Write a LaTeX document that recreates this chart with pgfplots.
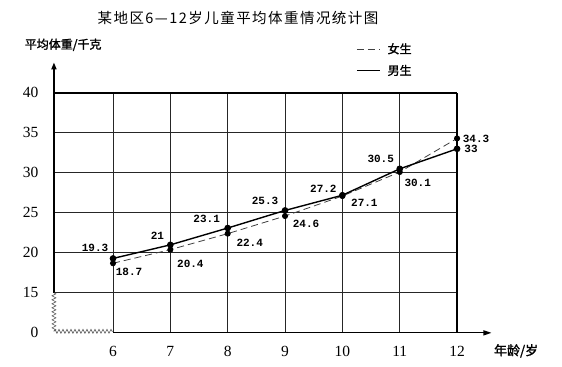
\documentclass[border=0pt]{standalone}
\usepackage{fontspec}
\setmainfont{Liberation Serif}
\newfontfamily\cjk{Noto Sans CJK SC}
\newfontfamily\cjkt[LetterSpace=10]{Noto Sans CJK SC}
\newfontfamily\cjkb[FakeBold=1.5]{Noto Sans CJK SC}
\newfontfamily\mono{Liberation Mono}
\usepackage{pgfplots}
\usepackage{pgfplotstable}
\pgfplotsset{compat=1.18}
\usetikzlibrary{decorations.pathmorphing,arrows.meta}

% x: age, y: weight (kg), lab: label, dx/dy: label offset (pt)
\pgfplotstableread{
x  y    lab   dx   dy
6  18.7 18.7  16   -9
7  20.4 20.4  20   -14
8  22.4 22.4  22   -9
9  24.6 24.6  21   -8
10 27.1 27.1  22   -7
11 30.1 30.1  18   -11
12 34.3 34.3  19   0
}\girls
\pgfplotstableread{
x  y    lab   dx   dy
6  19.3 19.3  -18  11
7  21   21    -13  9
8  23.1 23.1  -21  9
9  25.3 25.3  -20  10
10 27.2 27.2  -19  6
11 30.5 30.5  -19  10
12 33   33    14   0
}\boys

\pgfplotsset{
  lbl/.style={
    nodes near coords,
    point meta=explicit symbolic,
    visualization depends on={\thisrow{dx} \as \labdx},
    visualization depends on={\thisrow{dy} \as \labdy},
    every node near coord/.style={anchor=center, xshift=\labdx, yshift=\labdy,
       font=\mono\bfseries\fontsize{11}{12}\selectfont, text=black, inner sep=0pt},
  }
}

\begin{document}
\begin{tikzpicture}
\begin{axis}[
  x=57.33pt, y=8pt,
  xmin=4.97, xmax=12, ymin=10, ymax=40,
  axis line style={draw=none},
  tick style={draw=none},
  xtick={6,7,8,9,10,11,12},
  ytick={10,15,20,25,30,35,40},
  yticklabels={0,15,20,25,30,35,40},
  clip=false,
  /pgf/number format/assume math mode=true,
  ticklabel style={font=\fontsize{15.5}{17}\selectfont},
  xticklabel style={yshift=-10pt},
  yticklabel style={xshift=-12pt},
  legend cell align=left,
  legend image code/.code={\draw[#1] (0pt,0pt) -- (23pt,0pt);},
  legend style={at={(axis cs:10.22,46.6)}, anchor=north west, draw=none, fill=none,
     font=\cjkb\fontsize{12}{14}\selectfont, row sep=6pt, column sep=5pt, inner sep=1pt},
]
% bounding box of the whole picture
\path (axis cs:4.029,5.75) rectangle (axis cs:13.83,51.6);
% grid
\draw[line width=0.9pt, black!85] (axis cs:4.97,15) -- (axis cs:12,15);
\draw[line width=0.9pt, black!85] (axis cs:4.97,20) -- (axis cs:12,20);
\draw[line width=0.9pt, black!85] (axis cs:4.97,25) -- (axis cs:12,25);
\draw[line width=0.9pt, black!85] (axis cs:4.97,30) -- (axis cs:12,30);
\draw[line width=0.9pt, black!85] (axis cs:4.97,35) -- (axis cs:12,35);
\draw[line width=0.9pt, black!85] (axis cs:6,10) -- (axis cs:6,40);
\draw[line width=0.9pt, black!85] (axis cs:7,10) -- (axis cs:7,40);
\draw[line width=0.9pt, black!85] (axis cs:8,10) -- (axis cs:8,40);
\draw[line width=0.9pt, black!85] (axis cs:9,10) -- (axis cs:9,40);
\draw[line width=0.9pt, black!85] (axis cs:10,10) -- (axis cs:10,40);
\draw[line width=0.9pt, black!85] (axis cs:11,10) -- (axis cs:11,40);
\draw[line width=1.7pt] (axis cs:4.97,40) -- (axis cs:12,40);
\draw[line width=1.7pt] (axis cs:12,10) -- (axis cs:12,40);
% axes
\draw[line width=1.7pt, -{Triangle[length=7pt,width=5pt]}] (axis cs:4.97,15) -- (axis cs:4.97,43.8);
\draw[line width=1.2pt, -{Triangle[length=8pt,width=5pt]}] (axis cs:6,10) -- (axis cs:12.6,10);
\draw[line width=0.6pt, black!65, decorate, decoration={zigzag, amplitude=2pt, segment length=4pt}]
  (axis cs:4.97,15) -- (axis cs:4.97,10.2);
\draw[line width=0.6pt, black!65, decorate, decoration={zigzag, amplitude=2pt, segment length=4pt}]
  (axis cs:4.97,10.2) -- (axis cs:6,10.2);

\addplot[black!75, line width=0.8pt, dash pattern=on 7pt off 4pt,
  mark=*, mark size=2.6pt, mark options={solid, fill=black, draw=black}, lbl]
  table[x=x, y=y, meta=lab] {\girls};
\addlegendentry{女生}
\addplot[black, line width=1.4pt,
  mark=*, mark size=2.6pt, mark options={solid, fill=black, draw=black}, lbl]
  table[x=x, y=y, meta=lab] {\boys};
\addlegendentry{男生}

% texts
\node[font=\cjkt\fontsize{14.5}{17}\selectfont] at (axis cs:8.18,49.4) {某地区6—12岁儿童平均体重情况统计图};
\node[font=\cjkb\fontsize{12}{14}\selectfont] at (axis cs:5.13,46.0) {平均体重/千克};
\node[font=\cjkb\fontsize{13}{15}\selectfont] at (axis cs:13.03,7.75) {年龄/岁};
\end{axis}
\end{tikzpicture}
\end{document}
